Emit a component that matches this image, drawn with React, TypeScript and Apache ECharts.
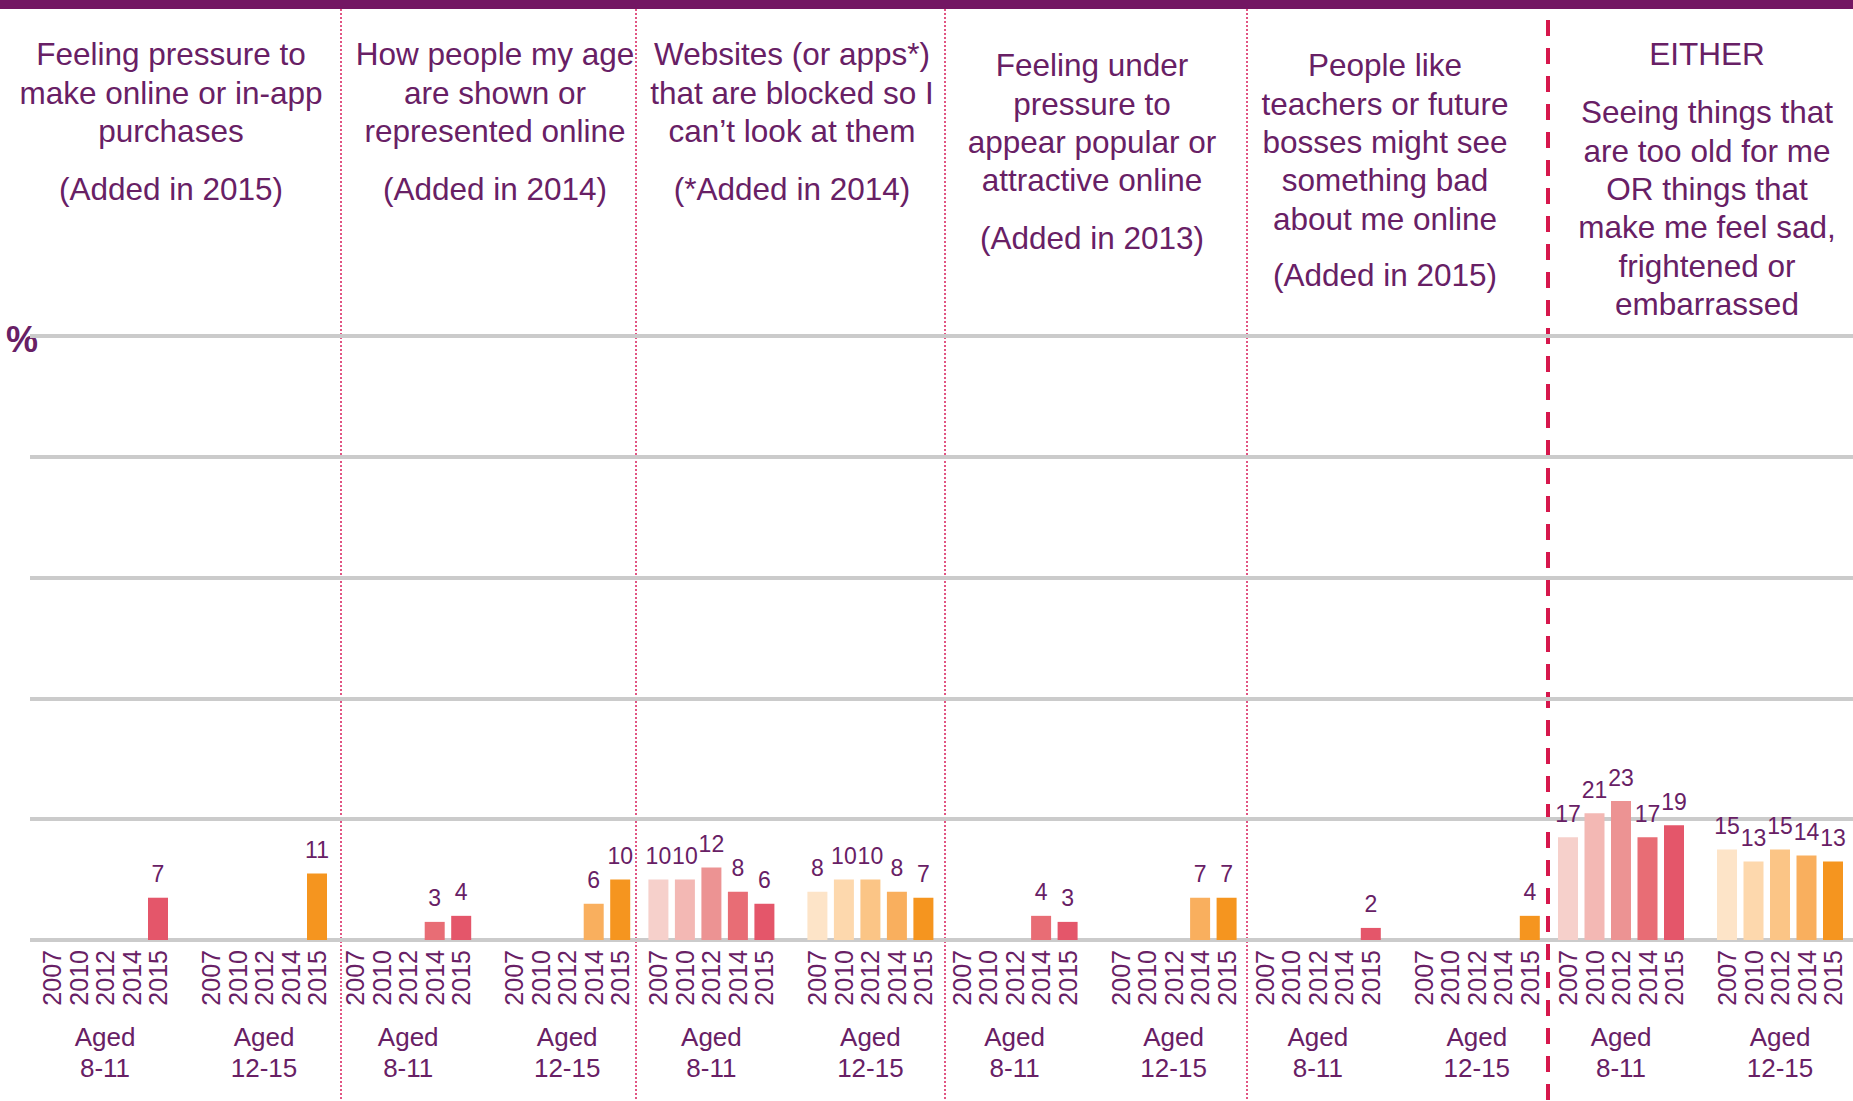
import React, { useEffect, useRef } from "react";
import * as echarts from "echarts";

// ---- data ----
const years = ["2007", "2010", "2012", "2014", "2015"];
const ageGroups = ["Aged\n8-11", "Aged\n12-15"];

const panelTitles = [
  "Feeling pressure to\nmake online or in-app\npurchases",
  "How people my age\nare shown or\nrepresented online",
  "Websites (or apps*)\nthat are blocked so I\ncan’t look at them",
  "Feeling under\npressure to\nappear popular or\nattractive online",
  "People like\nteachers or future\nbosses might see\nsomething bad\nabout me online",
  "Seeing things that\nare too old for me\nOR things that\nmake me feel sad,\nfrightened or\nembarrassed",
];
const panelNotes = ["(Added in 2015)", "(Added in 2014)", "(*Added in 2014)", "(Added in 2013)", "(Added in 2015)", "EITHER"];

const aged8to11: (number | null)[][] = [
  [null, null, null, null, 7],
  [null, null, null, 3, 4],
  [10, 10, 12, 8, 6],
  [null, null, null, 4, 3],
  [null, null, null, null, 2],
  [17, 21, 23, 17, 19],
];
const aged12to15: (number | null)[][] = [
  [null, null, null, null, 11],
  [null, null, null, 6, 10],
  [8, 10, 10, 8, 7],
  [null, null, null, 7, 7],
  [null, null, null, null, 4],
  [15, 13, 15, 14, 13],
];

const colors8to11 = ["#f6d0cb", "#f3b8b4", "#ec9393", "#e86d75", "#e4566a"];
const colors12to15 = ["#fde4c8", "#fdd8ad", "#fbc586", "#f9af5e", "#f5951f"];

// ---- layout / style ----
const PURPLE = "#682065";
const FONT = "'Liberation Sans', Arial, sans-serif";
const W = 1853;
const H = 1101;
const GRID_TOP = 336;
const GRID_BOTTOM = 161;
const SLOT = 26.5;
const PANEL_PERIOD = 303.2;
const FIRST_LEFT = 38.75;

// title layout: [centerX, topY of main block, centerY of note]
const titleLayout = [
  [171, 35, 189],
  [495, 35, 189],
  [792, 35, 189],
  [1092, 46, 238],
  [1385, 46, 275],
  [1707, 93, 54],
];
const dottedDividers = [341, 636, 945, 1247];
const dashedDivider = 1548;

function buildOption() {
  const grids: any[] = [{ left: 30, right: 0, top: GRID_TOP, bottom: GRID_BOTTOM }];
  const xAxes: any[] = [{ gridIndex: 0, type: "value", show: false, min: 0, max: 1 }];
  const yAxes: any[] = [
    {
      gridIndex: 0,
      type: "value",
      min: 0,
      max: 100,
      interval: 20,
      axisLine: { show: false },
      axisTick: { show: false },
      axisLabel: { show: false },
      splitLine: { show: true, lineStyle: { color: "#cbcbcb", width: 4 } },
    },
  ];
  const series: any[] = [];

  const yearCats = [...years, "", ...years];
  const groupCats = yearCats.map((_, i) => (i === 2 ? ageGroups[0] : i === 8 ? ageGroups[1] : ""));

  panelTitles.forEach((_, k) => {
    grids.push({
      left: FIRST_LEFT + PANEL_PERIOD * k,
      width: SLOT * 11,
      top: GRID_TOP,
      bottom: GRID_BOTTOM,
    });
    const gi = k + 1;
    xAxes.push({
      gridIndex: gi,
      type: "category",
      data: yearCats,
      position: "bottom",
      axisLine: { show: false },
      axisTick: { show: false },
      axisLabel: {
        interval: 0,
        rotate: 90,
        margin: 10,
        fontSize: 25,
        fontFamily: FONT,
        color: PURPLE,
      },
    });
    xAxes.push({
      gridIndex: gi,
      type: "category",
      data: groupCats,
      position: "bottom",
      axisLine: { show: false },
      axisTick: { show: false },
      axisLabel: {
        interval: 0,
        margin: 81,
        fontSize: 26,
        lineHeight: 31,
        fontFamily: FONT,
        color: PURPLE,
        align: "center",
      },
    });
    yAxes.push({ gridIndex: gi, type: "value", min: 0, max: 100, show: false, splitLine: { show: false } });

    const data: any[] = [
      ...aged8to11[k].map((v, i) => (v == null ? "-" : { value: v, itemStyle: { color: colors8to11[i] } })),
      "-",
      ...aged12to15[k].map((v, i) => (v == null ? "-" : { value: v, itemStyle: { color: colors12to15[i] } })),
    ];
    series.push({
      type: "bar",
      xAxisIndex: 1 + 2 * k,
      yAxisIndex: gi,
      barWidth: 20,
      data,
      label: {
        show: true,
        position: "top",
        distance: 12,
        fontSize: 23,
        fontFamily: FONT,
        color: PURPLE,
      },
    });
  });

  const graphics: any[] = [
    { type: "rect", shape: { x: 0, y: 0, width: W, height: 9 }, style: { fill: "#731763" } },
    {
      type: "text",
      x: 6,
      y: 339,
      style: {
        text: "%",
        fontSize: 36,
        fontWeight: "bold",
        fontFamily: FONT,
        fill: PURPLE,
        align: "left",
        verticalAlign: "middle",
        textAlign: "left",
        textVerticalAlign: "middle",
      },
    },
  ];

  dottedDividers.forEach((x) => {
    graphics.push({
      type: "line",
      shape: { x1: x, y1: 9, x2: x, y2: H },
      style: { stroke: "#d81e5b", lineWidth: 1.5, lineDash: [2, 2] },
    });
  });
  graphics.push({
    type: "line",
    shape: { x1: dashedDivider, y1: 20, x2: dashedDivider, y2: H },
    style: { stroke: "#d6174c", lineWidth: 4, lineDash: [16, 12] },
  });

  panelTitles.forEach((t, k) => {
    const [cx, top, noteY] = titleLayout[k];
    graphics.push({
      type: "text",
      x: cx,
      y: top,
      style: {
        text: t,
        fontSize: 31.5,
        lineHeight: 38.4,
        fontFamily: FONT,
        fill: PURPLE,
        align: "center",
        verticalAlign: "top",
        textAlign: "center",
        textVerticalAlign: "top",
      },
    });
    graphics.push({
      type: "text",
      x: cx,
      y: noteY,
      style: {
        text: panelNotes[k],
        fontSize: 31.5,
        lineHeight: 38.4,
        fontFamily: FONT,
        fill: PURPLE,
        align: "center",
        verticalAlign: "middle",
        textAlign: "center",
        textVerticalAlign: "middle",
      },
    });
  });

  return {
    animation: false,
    backgroundColor: "#ffffff",
    grid: grids,
    xAxis: xAxes,
    yAxis: yAxes,
    series,
    graphic: { elements: graphics },
  };
}

export default function App() {
  const ref = useRef<HTMLDivElement>(null);
  useEffect(() => {
    if (!ref.current) return;
    const chart = echarts.init(ref.current, null, { renderer: "svg" });
    chart.setOption(buildOption() as any);
    return () => chart.dispose();
  }, []);
  return (
    <div
      ref={ref}
      style={{ position: "fixed", left: 0, top: 0, width: W, height: H, background: "#ffffff" }}
    />
  );
}
